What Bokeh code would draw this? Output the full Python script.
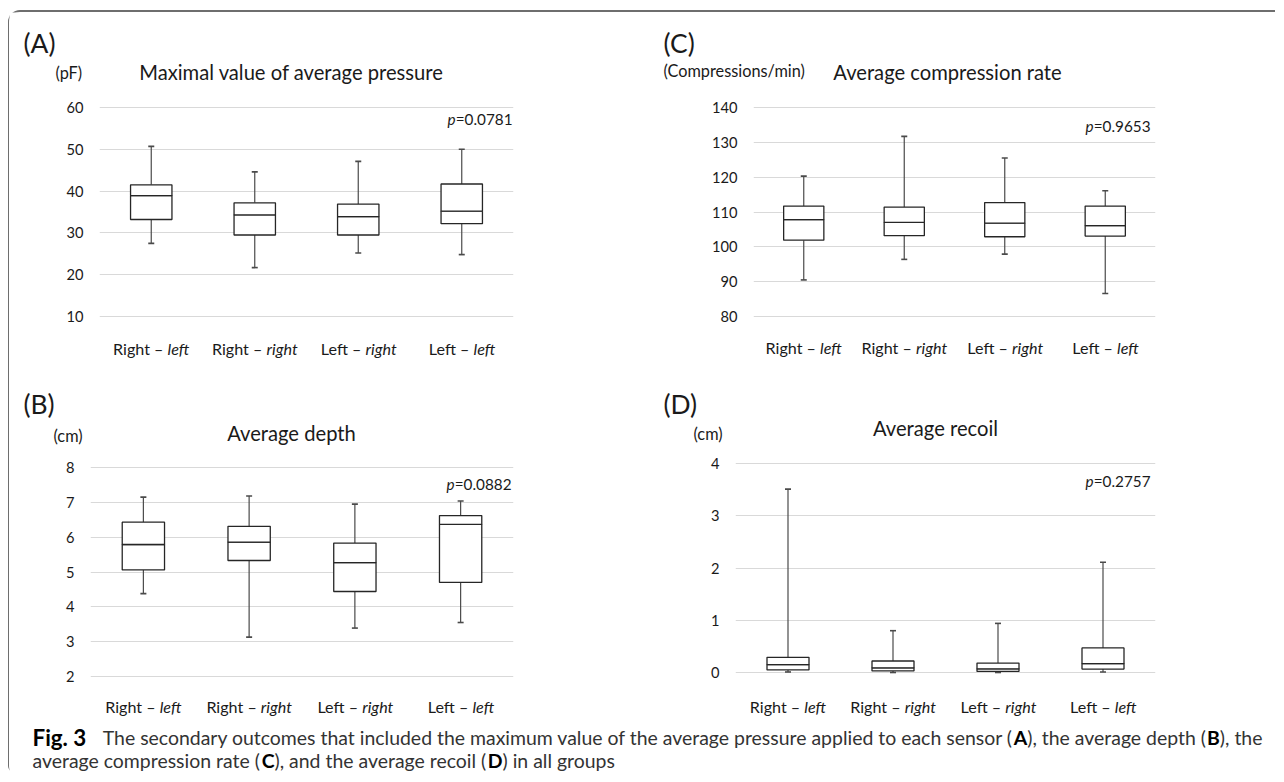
import os
import struct
from bokeh.plotting import figure
from bokeh.models import Range1d, FactorRange, Label, FixedTicker
from bokeh.layouts import column, row
from bokeh.embed import file_html
from bokeh.resources import INLINE

# ---------------- data ----------------
categories = ["Right – left", "Right – right", "Left – right", "Left – left"]
cat_main = ["Right –", "Right –", "Left –", "Left –"]
cat_ital = ["left", "right", "right", "left"]

# (A) Maximal value of average pressure (pF)
A_min = [27.5, 21.7, 25.2, 24.8]
A_q1 = [33.2, 29.5, 29.5, 32.2]
A_med = [38.9, 34.3, 33.9, 35.2]
A_q3 = [41.5, 37.2, 36.9, 41.7]
A_max = [50.7, 44.6, 47.1, 50.0]
A_ticks = [10, 20, 30, 40, 50, 60]

# (B) Average depth (cm)
B_min = [4.38, 3.13, 3.39, 3.55]
B_q1 = [5.06, 5.33, 4.44, 4.70]
B_med = [5.79, 5.86, 5.27, 6.37]
B_q3 = [6.43, 6.31, 5.83, 6.62]
B_max = [7.15, 7.18, 6.95, 7.04]
B_ticks = [2, 3, 4, 5, 6, 7, 8]

# (C) Average compression rate (Compressions/min)
C_min = [90.5, 96.4, 97.9, 86.6]
C_q1 = [101.9, 103.2, 102.9, 103.1]
C_med = [107.8, 107.0, 106.8, 106.1]
C_q3 = [111.7, 111.4, 112.7, 111.7]
C_max = [120.3, 131.7, 125.5, 116.1]
C_ticks = [80, 90, 100, 110, 120, 130, 140]

# (D) Average recoil (cm)
D_min = [0.01, 0.0, 0.0, 0.01]
D_q1 = [0.05, 0.03, 0.02, 0.065]
D_med = [0.15, 0.09, 0.07, 0.17]
D_q3 = [0.29, 0.22, 0.18, 0.47]
D_max = [3.51, 0.80, 0.94, 2.11]
D_ticks = [0, 1, 2, 3, 4]

panel_letters = ["(A)", "(B)", "(C)", "(D)"]
panel_titles = ["Maximal value of average pressure", "Average depth",
                "Average compression rate", "Average recoil"]
panel_units = ["(pF)", "(cm)", "(Compressions/min)", "(cm)"]
p_values = ["0.0781", "0.0882", "0.9653", "0.2757"]

caption_fig = "Fig. 3"
caption_line1 = [("The secondary outcomes that included the maximum value of the average pressure applied to each sensor (", "normal"),
                 ("A", "bold"), ("), the average depth (", "normal"), ("B", "bold"), ("), the", "normal")]
caption_line2 = [("average compression rate (", "normal"), ("C", "bold"),
                 ("), and the average recoil (", "normal"), ("D", "bold"), (") in all groups", "normal")]

FONT = "Lato"
TEXT = "#1a1a1a"
GRID = "#d9d9d9"
BOX = "#262626"
WHISK = "#4a4a4a"


# ---------------- font metrics (for mixed-style text placement) ----------------
def _load_metrics(path):
    data = open(path, "rb").read()
    num = struct.unpack(">H", data[4:6])[0]
    tabs = {}
    for i in range(num):
        tag, _, off, _ln = struct.unpack(">4sIII", data[12 + 16 * i: 28 + 16 * i])
        tabs[tag.decode("latin-1")] = off
    upem = struct.unpack(">H", data[tabs["head"] + 18: tabs["head"] + 20])[0]
    nhm = struct.unpack(">H", data[tabs["hhea"] + 34: tabs["hhea"] + 36])[0]
    h = tabs["hmtx"]
    adv = struct.unpack(">" + "Hh" * nhm, data[h: h + 4 * nhm])[0::2]
    c = tabs["cmap"]
    nsub = struct.unpack(">H", data[c + 2: c + 4])[0]
    sub = None
    for i in range(nsub):
        pid, eid, so = struct.unpack(">HHI", data[c + 4 + 8 * i: c + 12 + 8 * i])
        fmt = struct.unpack(">H", data[c + so: c + so + 2])[0]
        if fmt == 4 and ((pid == 3 and eid in (0, 1)) or pid == 0):
            sub = c + so
            break
    segx2 = struct.unpack(">H", data[sub + 6: sub + 8])[0]
    n = segx2 // 2
    ends = struct.unpack(">%dH" % n, data[sub + 14: sub + 14 + segx2])
    starts = struct.unpack(">%dH" % n, data[sub + 16 + segx2: sub + 16 + 2 * segx2])
    deltas = struct.unpack(">%dh" % n, data[sub + 16 + 2 * segx2: sub + 16 + 3 * segx2])
    ro = sub + 16 + 3 * segx2
    roffs = struct.unpack(">%dH" % n, data[ro: ro + segx2])
    cache = {}

    def gadv(ch):
        cp = ord(ch)
        if cp in cache:
            return cache[cp]
        g = 0
        for i in range(n):
            if ends[i] >= cp:
                if starts[i] <= cp:
                    if roffs[i] == 0:
                        g = (cp + deltas[i]) & 0xFFFF
                    else:
                        a = ro + 2 * i + roffs[i] + 2 * (cp - starts[i])
                        g = struct.unpack(">H", data[a: a + 2])[0]
                        if g:
                            g = (g + deltas[i]) & 0xFFFF
                break
        w = adv[min(g, nhm - 1)] / upem
        cache[cp] = w
        return w

    return lambda s: sum(gadv(ch) for ch in s)


def _find(name):
    roots = ["/usr/share/fonts", "/usr/local/share/fonts",
             os.path.expanduser("~/.fonts"), os.path.expanduser("~/.local/share/fonts")]
    for r in roots:
        if not os.path.isdir(r):
            continue
        for dp, _dn, fn in os.walk(r):
            for f in fn:
                if f.lower() == name:
                    return os.path.join(dp, f)
    return None


def _fallback(s):
    return sum(0.26 if ch == " " else 0.52 for ch in s)


METRICS = {}
_have = True
for _style, _fname in [("normal", "lato-regular.ttf"), ("italic", "lato-italic.ttf"), ("bold", "lato-bold.ttf")]:
    try:
        _p = _find(_fname)
        METRICS[_style] = _load_metrics(_p) if _p else None
    except Exception:
        METRICS[_style] = None
if METRICS["normal"] is None:
    _have = False
    METRICS["normal"] = _fallback
if METRICS["italic"] is None:
    METRICS["italic"] = METRICS["normal"]
if METRICS["bold"] is None:
    METRICS["bold"] = lambda s: METRICS["normal"](s) * 1.05


def em(text, style="normal"):
    return METRICS[style](text)


def fit(target_px, em_width, default):
    if not _have or em_width <= 0:
        return default
    s = target_px / em_width
    return max(default * 0.8, min(default * 1.25, s))


SP = em(" ")
TICK_SIZE = fit(17.0, em("60"), 15.0)
TITLE_SIZE = fit(307.0, em(panel_titles[0]), 19.0)
UNIT_SIZE = fit(143.0, em(panel_units[2]), 14.0)
LETTER_SIZE = fit(32.0, em(panel_letters[0]), 23.0)
CAT_SIZE = fit(77.0, em(cat_main[0]) + SP + em(cat_ital[0], "italic"), 15.0)
P_SIZE = fit(65.0, em("p", "italic") + em("=" + p_values[0]), 14.0)
CAP_SIZE = fit(1262.0 - 99.0, sum(em(t, st) for t, st in caption_line1), 16.0)


def add_text(p, text, x, y, size, style="normal", align="left", color=TEXT,
             x_units="screen", y_units="screen", x_offset=0.0):
    p.add_layout(Label(x=x, y=y, x_units=x_units, y_units=y_units, text=text,
                       text_font=FONT, text_font_size="%.2fpx" % size,
                       text_font_style=style, text_align=align, text_baseline="middle",
                       text_color=color, x_offset=x_offset))


# ---------------- page geometry ----------------
X0, Y0 = 9, 12             # content origin (inside the frame border)
W_L, W_R = 632, 634
HDR1, PLT1 = 78, 282       # row 1: header strip 12..90, plot strip 90..372
HDR2, PLT2 = 78, 272       # row 2: header strip 372..450, plot strip 450..722
HC = 50                    # caption 722..772


def blank(width, height):
    f = figure(x_range=Range1d(0, 1), y_range=Range1d(0, 1), frame_width=width, frame_height=height,
               min_border=0, output_backend="svg", toolbar_location=None,
               background_fill_color="white", border_fill_color="white")
    f.axis.visible = False
    f.grid.visible = False
    f.outline_line_color = None
    return f


def header(top, height, items):
    h = blank(W_L + W_R, height)
    bottom = top + height
    for (ix, lx, ly, ux, uy, tx, ty) in items:
        add_text(h, panel_letters[ix], lx - X0, bottom - ly, LETTER_SIZE)
        add_text(h, panel_units[ix], ux - X0, bottom - uy, UNIT_SIZE)
        add_text(h, panel_titles[ix], tx - X0, bottom - ty, TITLE_SIZE, align="center")
    return h


def build_panel(idx, fig_x, fig_w, top, height, fl, fw, ticks, y_hi_px, y_lo_px,
                vmin, q1, med, q3, vmax, p_pos, cat_y):
    lo, hi = ticks[0], ticks[-1]
    bottom = top + height
    u = (hi - lo) / float(y_lo_px - y_hi_px)
    y0 = lo - (bottom - y_lo_px) * u
    y1 = hi + (y_hi_px - top) * u
    bl = fl - fig_x
    p = figure(x_range=FactorRange(factors=categories, range_padding=0),
               y_range=Range1d(y0, y1),
               frame_width=fw, frame_height=height,
               min_border_left=bl, min_border_right=fig_w - bl - fw,
               min_border_top=0, min_border_bottom=0,
               output_backend="svg", toolbar_location=None,
               background_fill_color="white", border_fill_color="white")
    p.outline_line_color = None
    p.xaxis.visible = False
    p.xgrid.visible = False
    p.yaxis.ticker = FixedTicker(ticks=ticks)
    p.ygrid.ticker = FixedTicker(ticks=ticks)
    p.ygrid.grid_line_color = GRID
    p.ygrid.grid_line_width = 1
    p.yaxis.axis_line_color = None
    p.yaxis.major_tick_line_color = None
    p.yaxis.minor_tick_line_color = None
    p.yaxis.major_tick_out = 0
    p.yaxis.major_tick_in = 0
    p.yaxis.major_label_standoff = 16
    p.yaxis.major_label_text_font = FONT
    p.yaxis.major_label_text_font_size = "%.2fpx" % TICK_SIZE
    p.yaxis.major_label_text_color = TEXT

    # whiskers
    p.segment(x0=categories, x1=categories, y0=q3, y1=vmax, line_color=WHISK, line_width=1.2)
    p.segment(x0=categories, x1=categories, y0=vmin, y1=q1, line_color=WHISK, line_width=1.2)
    p.scatter(x=categories, y=vmax, marker="dash", size=6, line_color=WHISK, line_width=1.6)
    p.scatter(x=categories, y=vmin, marker="dash", size=6, line_color=WHISK, line_width=1.6)
    # boxes (lower and upper halves meet at the median)
    p.vbar(x=categories, bottom=q1, top=med, width=0.4, fill_color="white",
           line_color=BOX, line_width=1.3)
    p.vbar(x=categories, bottom=med, top=q3, width=0.4, fill_color="white",
           line_color=BOX, line_width=1.3)

    # p value: italic p + normal text, right aligned at the frame's right side
    xr, yp = p_pos[0] - fl, bottom - p_pos[1]
    rest = "=" + p_values[idx]
    add_text(p, rest, xr, yp, P_SIZE, align="right")
    add_text(p, "p", xr, yp, P_SIZE, style="italic", align="right", x_offset=-em(rest) * P_SIZE)
    # category labels (normal + italic part), centred on each factor
    ylab = bottom - cat_y
    for i, (a, b) in enumerate(zip(cat_main, cat_ital)):
        xc = i + 0.5
        wa = em(a) * CAT_SIZE
        wg = SP * CAT_SIZE
        wb = em(b, "italic") * CAT_SIZE
        W = wa + wg + wb
        add_text(p, a, xc, ylab, CAT_SIZE, align="right", x_units="data", x_offset=wa - W / 2)
        add_text(p, b, xc, ylab, CAT_SIZE, style="italic", align="left", x_units="data",
                 x_offset=wa + wg - W / 2)
    return p


T1 = Y0 + HDR1            # 90
T2 = T1 + PLT1 + HDR2     # 450

h1 = header(Y0, HDR1, [(0, 23, 42, 55, 72, 291, 71), (2, 663, 42, 663, 70, 947, 71)])
pA = build_panel(0, X0, W_L, T1, PLT1, 99, 414, A_ticks, 107, 316,
                 A_min, A_q1, A_med, A_q3, A_max, (512, 118), 348)
pC = build_panel(2, X0 + W_L, W_R, T1, PLT1, 753, 402, C_ticks, 107, 316,
                 C_min, C_q1, C_med, C_q3, C_max, (1150, 125), 347)
h2 = header(T1 + PLT1, HDR2, [(1, 23, 403, 53, 435, 291, 432), (3, 663, 403, 693, 433, 935, 427)])
pB = build_panel(1, X0, W_L, T2, PLT2, 90, 423, B_ticks, 467, 676,
                 B_min, B_q1, B_med, B_q3, B_max, (511, 483), 706)
pD = build_panel(3, X0 + W_L, W_R, T2, PLT2, 735, 420, D_ticks, 463, 672,
                 D_min, D_q1, D_med, D_q3, D_max, (1150, 480), 706)

# ---------------- caption ----------------
CAP_TOP = T2 + PLT2
cap = blank(W_L + W_R, HC)
CAP_COLOR = "#333333"


def cy(page_y):
    return CAP_TOP + HC - page_y


add_text(cap, caption_fig, 32 - X0, cy(737), CAP_SIZE * 1.15, style="bold", color="#000000")
# line 1: the long first run is right-aligned at its measured end so that the bold letter joins it exactly
x = 99 - X0 + em(caption_line1[0][0]) * CAP_SIZE
add_text(cap, caption_line1[0][0], x, cy(737), CAP_SIZE, align="right", color=CAP_COLOR)
for t, st in caption_line1[1:]:
    add_text(cap, t, x, cy(737), CAP_SIZE, style=st, color="#000000" if st == "bold" else CAP_COLOR)
    x += em(t, st) * CAP_SIZE
# line 2
x = 32 - X0
for t, st in caption_line2:
    add_text(cap, t, x, cy(760), CAP_SIZE, style=st, color="#000000" if st == "bold" else CAP_COLOR)
    x += em(t, st) * CAP_SIZE

layout = column(
    h1,
    row(pA, pC, spacing=0),
    h2,
    row(pB, pD, spacing=0),
    cap,
    spacing=0,
    styles={"border-top": "2px solid #6e6e6e", "border-left": "1px solid #6e6e6e",
            "border-top-left-radius": "12px", "border-bottom-left-radius": "6px",
            "margin-top": "10px", "margin-left": "8px"},
)

open("out.html", "w").write(file_html(layout, INLINE))
